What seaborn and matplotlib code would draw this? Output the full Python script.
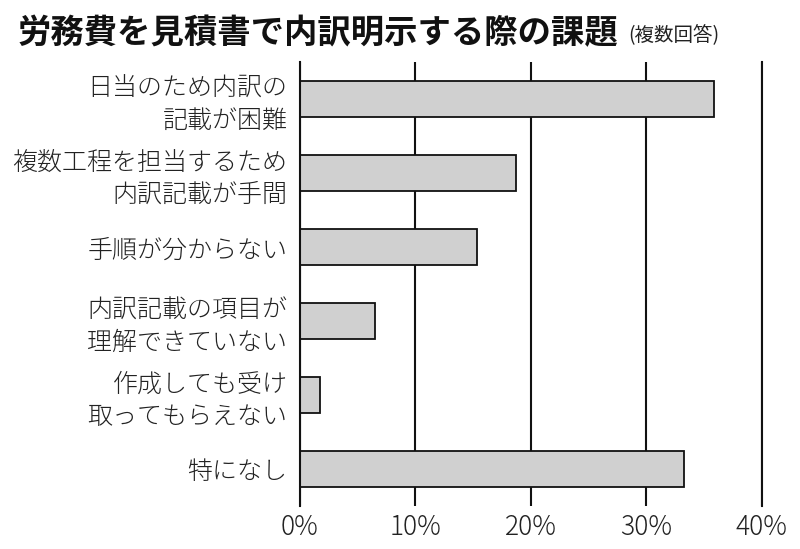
import matplotlib
matplotlib.use("Agg")
import matplotlib.pyplot as plt
import seaborn as sns
import pandas as pd

# ===================== DATA =====================
categories = [
    "日当のため内訳の\n記載が困難",
    "複数工程を担当するため\n内訳記載が手間",
    "手順が分からない",
    "内訳記載の項目が\n理解できていない",
    "作成しても受け\n取ってもらえない",
    "特になし",
]
values = [35.9, 18.7, 15.3, 6.5, 1.7, 33.3]
x_ticks = [0, 10, 20, 30, 40]
x_tick_labels = ["0%", "10%", "20%", "30%", "40%"]

TITLE = "労務費を見積書で内訳明示する際の課題"
SUBTITLE = "(複数回答)"

# ===================== STYLE =====================
sns.set_style("white")
plt.rcParams["font.family"] = ["Noto Sans CJK JP", "DejaVu Sans"]

df = pd.DataFrame({"cat": categories, "val": values})

fig = plt.figure(figsize=(8, 5.49), dpi=100)
ax = fig.add_axes([0.375, 0.0783, 0.577, 0.8087])

sns.barplot(data=df, x="val", y="cat", orient="h", color="#d0d0d0",
            edgecolor="#111111", linewidth=1.3, width=0.49, saturation=1, ax=ax)

ax.set_xlim(0, 40)
ax.set_ylim(5.5, -0.5)
ax.set_xticks(x_ticks)
ax.set_xticklabels(x_tick_labels, fontsize=19, color="#222222", fontweight="light")
ax.set_yticks(range(len(categories)))
ax.set_yticklabels(categories, fontsize=18, color="#222222", fontweight="light",
                   linespacing=1.25, multialignment="right")
ax.tick_params(axis="x", length=0, pad=5)
ax.tick_params(axis="y", length=0, pad=9)
ax.set_xlabel("")
ax.set_ylabel("")

ax.grid(axis="x", color="#111111", linewidth=1.5)
ax.grid(axis="y", visible=False)
ax.set_axisbelow(True)
for side in ["top", "bottom"]:
    ax.spines[side].set_visible(False)
for side in ["left", "right"]:
    ax.spines[side].set_visible(True)
    ax.spines[side].set_color("#111111")
    ax.spines[side].set_linewidth(1.5)

# ===================== TITLE =====================
t = fig.text(18 / 800, 1 - 34 / 549, TITLE, fontsize=24, fontweight="bold",
             va="center", ha="left", color="#111111")
fig.canvas.draw()
bb = t.get_window_extent()
fig.text(bb.x1 / 800 + 0.012, 1 - 36 / 549, SUBTITLE, fontsize=14,
         va="center", ha="left", color="#222222")

plt.savefig("out.png", dpi=100)
plt.close()
